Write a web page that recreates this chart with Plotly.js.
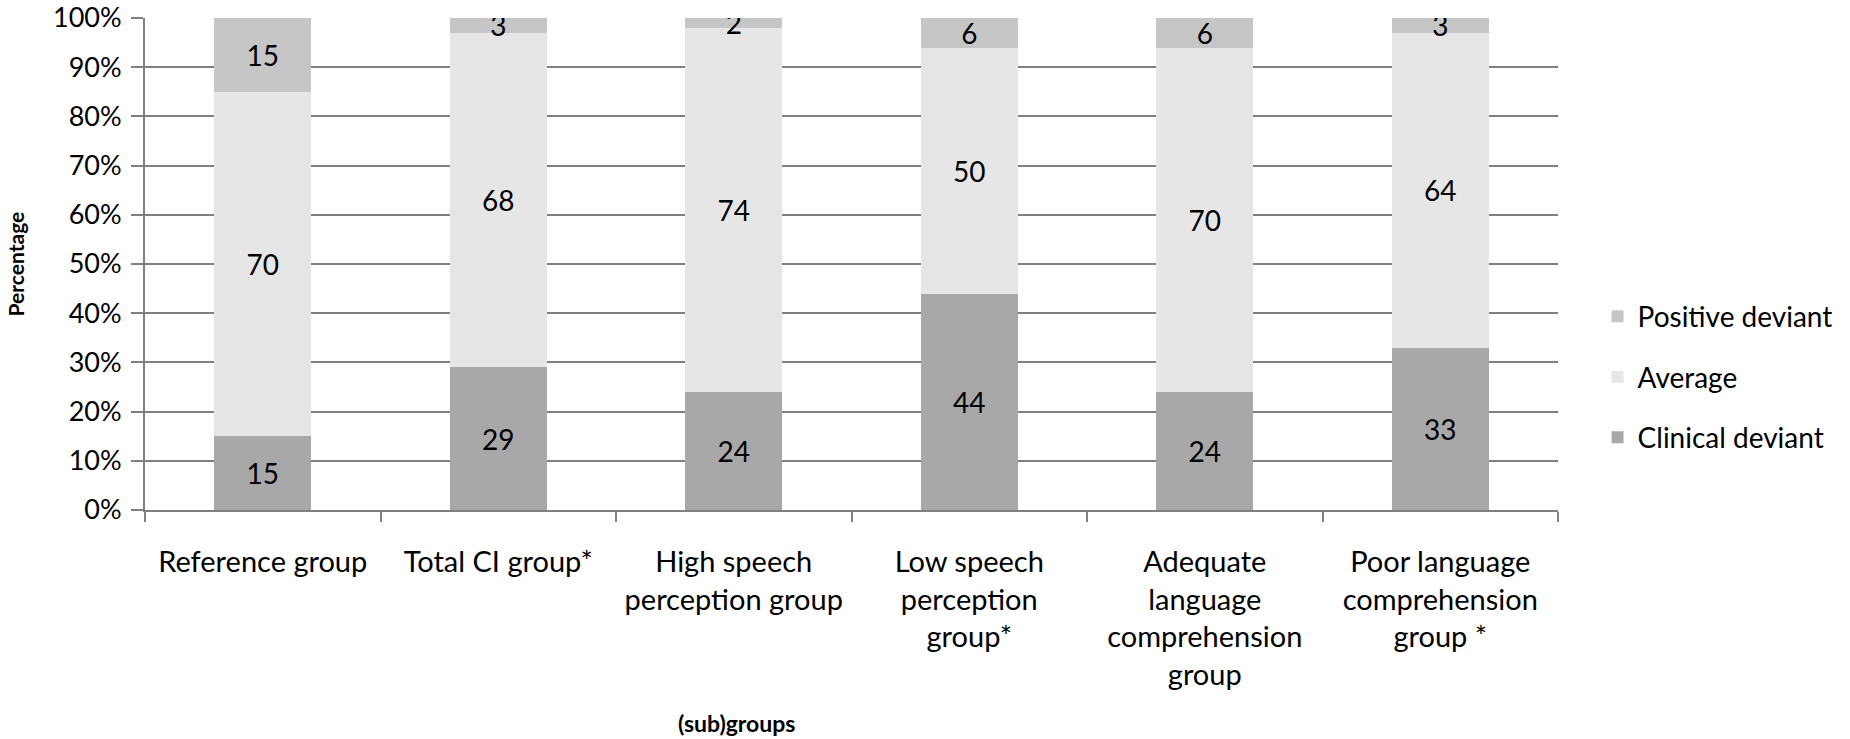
<!DOCTYPE html>
<html>
<head>
<meta charset="utf-8">
<script src="https://cdn.plot.ly/plotly-3.0.1.min.js"></script>
<style>
  html, body { margin: 0; padding: 0; background: #fff; }
  #chart { width: 1850px; height: 739px; }
</style>
</head>
<body>
<div id="chart"></div>
<script>
const groups = [
    'Reference group',
    'Total CI group*',
    'High speech<br>perception group',
    'Low speech<br>perception<br>group*',
    'Adequate<br>language<br>comprehension<br>group',
    'Poor language<br>comprehension<br>group *',
];
const clinicalDeviant = [15, 29, 24, 44, 24, 33];
const average = [70, 68, 74, 50, 70, 64];
const positiveDeviant = [15, 3, 2, 6, 6, 3];
const yTicks = [0, 10, 20, 30, 40, 50, 60, 70, 80, 90, 100];
const yTickText = yTicks.map(v => v + '%');

const fontFamily = 'Lato, "Open Sans", sans-serif';
const gridGrey = '#808080';

function barTrace(name, values, color, rank) {
    return {
        x: groups,
        y: values,
        type: 'bar',
        name: name,
        legendgroup: name,
        legendrank: rank,
        marker: { color: color, line: { width: 0 } },
        text: values.map(String),
        textposition: 'inside',
        insidetextanchor: 'middle',
        textangle: 0,
        constraintext: 'none',
        textfont: { color: '#000', size: 28, family: fontFamily },
        hoverinfo: 'skip',
    };
}

const traces = [
    barTrace('Clinical deviant', clinicalDeviant, '#a8a8a8', 3),
    barTrace('Average', average, '#e6e6e6', 2),
    barTrace('Positive deviant', positiveDeviant, '#c6c6c6', 1),
];

const layout = {
    width: 1850,
    height: 739,
    paper_bgcolor: '#fff',
    plot_bgcolor: '#fff',
    barmode: 'stack',
    bargap: 0.59,
    margin: { t: 18, l: 145, r: 288, b: 229 },
    font: { family: fontFamily, color: '#000', size: 28 },
    xaxis: {
        type: 'category',
        showline: true,
        linecolor: gridGrey,
        linewidth: 2,
        ticks: 'outside',
        tickson: 'boundaries',
        ticklen: 10,
        tickwidth: 2,
        tickcolor: gridGrey,
        showgrid: false,
        tickfont: { size: 29, family: fontFamily },
        ticklabelstandoff: 25,
    },
    yaxis: {
        range: [0, 100],
        tickmode: 'array',
        tickvals: yTicks,
        ticktext: yTickText,
        ticklabeloverflow: 'allow',
        showline: true,
        linecolor: gridGrey,
        linewidth: 2,
        ticks: 'outside',
        ticklen: 12,
        tickwidth: 2,
        tickcolor: gridGrey,
        showgrid: true,
        gridcolor: gridGrey,
        gridwidth: 2,
        zeroline: false,
        tickfont: { size: 27, family: fontFamily },
        ticklabelstandoff: 4,
    },
    legend: {
        x: 1.028,
        xanchor: 'left',
        y: 0.27,
        yanchor: 'middle',
        traceorder: 'grouped',
        tracegroupgap: 21,
        font: { size: 28, family: fontFamily },
        itemwidth: 30,
    },
    showlegend: true,
    annotations: [
        {
            text: '<b>(sub)groups</b>',
            xref: 'paper', yref: 'paper',
            x: 0.4185, y: -0.433,
            xanchor: 'center', yanchor: 'middle',
            showarrow: false,
            font: { size: 23, family: fontFamily },
        },
        {
            text: '<b>Percentage</b>',
            xref: 'paper', yref: 'paper',
            x: -0.0917, y: 0.5,
            xanchor: 'center', yanchor: 'middle',
            textangle: -90,
            showarrow: false,
            font: { size: 21, family: fontFamily },
        },
    ],
};

Plotly.newPlot('chart', traces, layout, { displayModeBar: false, staticPlot: true });
</script>
</body>
</html>
